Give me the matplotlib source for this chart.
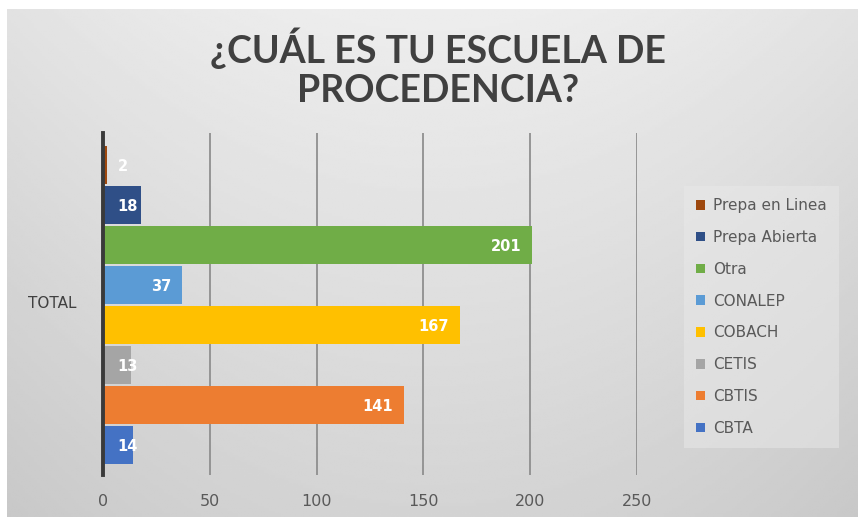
import numpy as np
from matplotlib import pyplot as plt

# data, bottom to top as drawn
schools = ["CBTA", "CBTIS", "CETIS", "COBACH", "CONALEP", "Otra", "Prepa Abierta", "Prepa en Linea"]
counts = [14, 141, 13, 167, 37, 201, 18, 2]
colors = ["#4472C4", "#ED7D31", "#A5A5A5", "#FFC000", "#5B9BD5", "#70AD47", "#2F4F87", "#9E480E"]
xticks = [0, 50, 100, 150, 200, 250]

W, H = 858, 517
fig = plt.figure(figsize=(W / 100, H / 100), dpi=100)
fig.patch.set_facecolor("white")

# gray gradient background of the chart area
bg = fig.add_axes([7 / W, 0, 1 - 7 / W, 1 - 9 / H])
gx = np.linspace(-1, 1, 300)
gy = np.linspace(0, 1, 200)
X, Y = np.meshgrid(gx, gy)
shade = 0.93 - 0.045 * X**2 - 0.10 * Y
bg.imshow(shade, cmap="gray", vmin=0, vmax=1, aspect="auto", extent=[0, 1, 0, 1], origin="upper")
bg.set_axis_off()

ax = fig.add_axes([103 / W, 1 - 475 / H, (637 - 103) / W, (475 - 133) / H])
ax.patch.set_alpha(0)
y = np.arange(len(schools))
for i in range(len(schools)):
    ax.barh(y[i], counts[i], height=0.97, color=colors[i], label=schools[i], zorder=3)

for i, v in enumerate(counts):
    if v < 25:
        ax.annotate(str(v), (0, y[i]), xytext=(10.5, -1), textcoords="offset points",
                    ha="left", va="center", color="white", fontsize=10.5, fontweight="bold", zorder=4)
    else:
        ax.annotate(str(v), (v, y[i]), xytext=(-8, -1), textcoords="offset points",
                    ha="right", va="center", color="white", fontsize=10.5, fontweight="bold", zorder=4)

ax.set_xlim(0, 250)
ax.set_ylim(-0.75, 7.8)
ax.set_xticks(xticks)
ax.set_xticklabels([str(t) for t in xticks], color="#595959", fontsize=11.5)
ax.tick_params(axis="x", length=0, pad=14)
ax.set_yticks([])
ax.grid(axis="x", color="#8f8f8f", linewidth=1.3, zorder=1)
for s in ["top", "right", "bottom"]:
    ax.spines[s].set_visible(False)
ax.spines["left"].set_color("#3a3a3a")
ax.spines["left"].set_linewidth(2.8)
ax.spines["left"].set_zorder(5)

fig.text(52 / W, 1 - 303 / H, "TOTAL", ha="center", va="center", color="#404040", fontsize=11)

fig.text(438 / W, 1 - 48 / H, "¿CUÁL ES TU ESCUELA DE", ha="center", va="center",
         color="#404040", fontsize=27, fontweight="bold", family="Lato")
fig.text(438 / W, 1 - 91 / H, "PROCEDENCIA?", ha="center", va="center",
         color="#404040", fontsize=27, fontweight="bold", family="Lato")

h, l = ax.get_legend_handles_labels()
leg = fig.legend(h[::-1], l[::-1], loc="center left", bbox_to_anchor=(676 / W, 1 - 317 / H),
                 frameon=True, fontsize=11, handlelength=0.6, handleheight=0.6,
                 handletextpad=0.5, labelspacing=1.1, borderpad=0.8, labelcolor="#595959")
leg.get_frame().set_facecolor("#e9e9e9")
leg.get_frame().set_edgecolor("none")
leg.get_frame().set_alpha(0.5)
leg.get_frame().set_boxstyle("square", pad=0)

fig.savefig("out.png", dpi=100)
